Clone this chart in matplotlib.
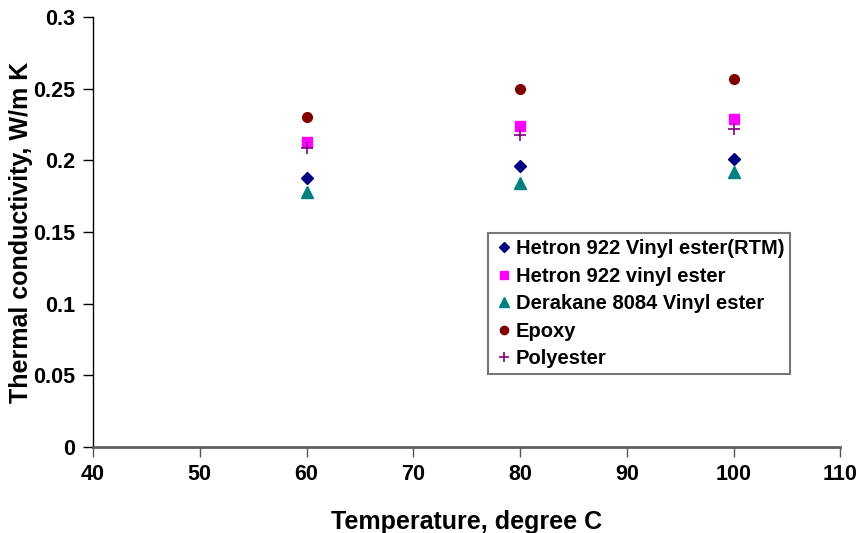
import matplotlib
matplotlib.use("Agg")
import matplotlib.pyplot as plt

plt.rcParams["font.family"] = ["Liberation Sans", "DejaVu Sans"]
plt.rcParams["font.weight"] = "bold"

temps = [60, 80, 100]
hetron_rtm = [0.188, 0.196, 0.201]
hetron = [0.213, 0.224, 0.229]
derakane = [0.178, 0.184, 0.192]
epoxy = [0.230, 0.250, 0.257]
polyester = [0.209, 0.218, 0.222]

fig = plt.figure(figsize=(8.61, 5.33), dpi=100)
ax = fig.add_axes([0.108, 0.161, 0.868, 0.807])

ax.plot(temps, hetron_rtm, "D", color="#000080", ms=6, ls="none",
        label="Hetron 922 Vinyl ester(RTM)")
ax.plot(temps, hetron, "s", color="#ff00ff", ms=7, ls="none",
        label="Hetron 922 vinyl ester")
ax.plot(temps, derakane, "^", color="#008080", ms=8, ls="none",
        label="Derakane 8084 Vinyl ester")
ax.plot(temps, epoxy, "o", color="#800000", ms=7, ls="none", label="Epoxy")
ax.plot(temps, polyester, "+", color="#800080", ms=9, mew=1.2, ls="none",
        label="Polyester")

ax.set_xlim(40, 110)
ax.set_ylim(0, 0.3)
ax.set_xticks(range(40, 111, 10))
ax.set_yticks([0, 0.05, 0.1, 0.15, 0.2, 0.25, 0.3])
ax.set_yticklabels(["0", "0.05", "0.1", "0.15", "0.2", "0.25", "0.3"])
ax.tick_params(labelsize=15.5, direction="out", length=7, width=1)
ax.tick_params(axis="x", color="#555555", pad=5)
ax.tick_params(axis="y", color="black", pad=6)
ax.spines["top"].set_visible(False)
ax.spines["right"].set_visible(False)
ax.spines["left"].set_color("black")
ax.spines["left"].set_linewidth(1.0)
ax.spines["bottom"].set_color("#606060")
ax.spines["bottom"].set_linewidth(2.0)

ax.set_xlabel("Temperature, degree C", fontsize=18, fontweight="bold")
ax.set_ylabel("Thermal conductivity, W/m K", fontsize=18, fontweight="bold")
ax.xaxis.set_label_coords(0.5, -0.147)
ax.yaxis.set_label_coords(-0.080, 0.5)

leg = ax.legend(loc="upper left", bbox_to_anchor=(0.528, 0.497), fontsize=14.5,
                frameon=True, fancybox=False, edgecolor="#555555",
                handletextpad=0.1, handlelength=1.0, borderpad=0.3,
                labelspacing=0.42, borderaxespad=0, markerscale=0.85)
leg.get_frame().set_linewidth(1.5)

fig.savefig("out.png", dpi=100)
